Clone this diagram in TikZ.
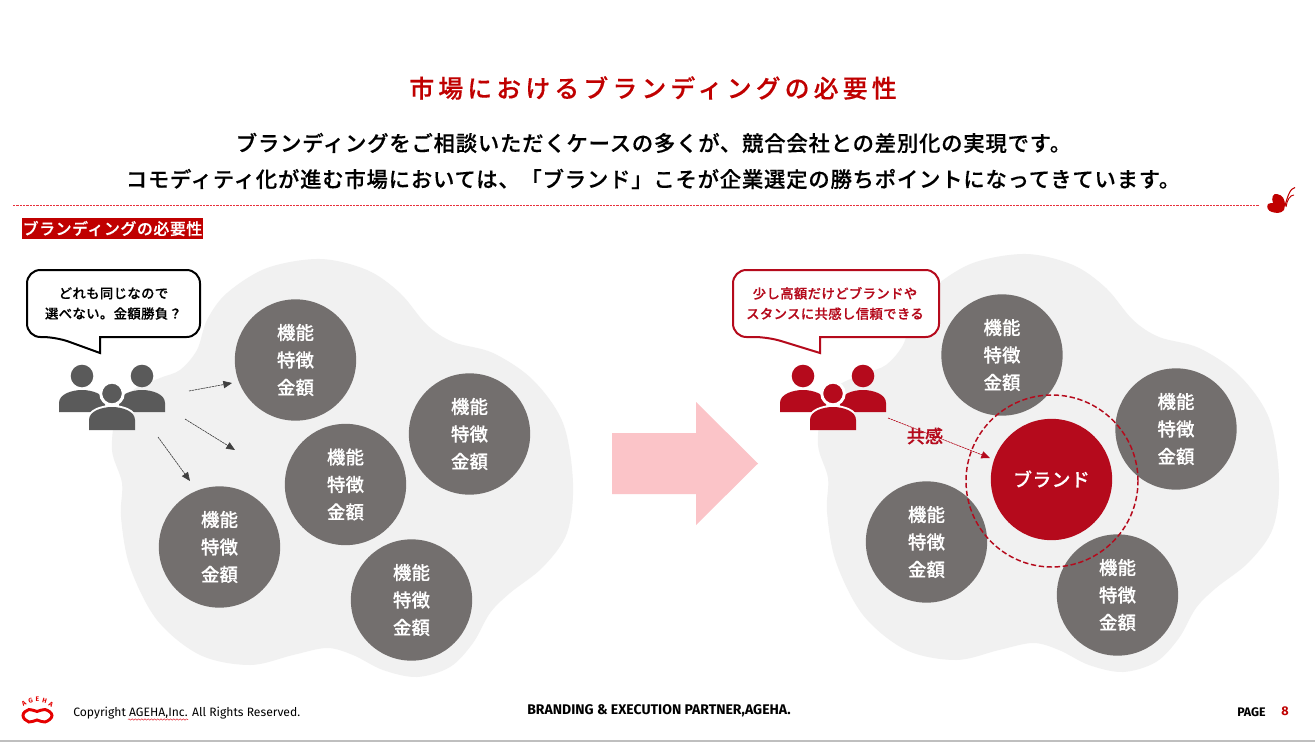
\documentclass[tikz,border=0pt]{standalone}
\usepackage{fontspec}
\usetikzlibrary{arrows.meta,decorations.pathmorphing}
\setmainfont{Noto Sans CJK JP}
\newfontfamily\ttlf[LetterSpace=17,FakeBold=0.35]{Noto Sans CJK JP Medium}
\newfontfamily\leadf[LetterSpace=3.8,FakeBold=0.35]{Noto Sans CJK JP Medium}
\newfontfamily\bubf[LetterSpace=3,FakeBold=0.35]{Noto Sans CJK JP Medium}
\newfontfamily\circf[LetterSpace=1,FakeBold=0.35]{Noto Sans CJK JP Medium}
\newfontfamily\footf{Fira Sans}
\definecolor{brandred}{HTML}{B50A1C}
\definecolor{titlered}{HTML}{C00000}
\definecolor{rulered}{HTML}{E8303C}
\definecolor{blobgray}{HTML}{F1F1F1}
\definecolor{circgray}{HTML}{736F6E}
\definecolor{peoplegray}{HTML}{5A5A5A}
\definecolor{arrowgray}{HTML}{404040}
\definecolor{pinkarrow}{HTML}{FBC4C8}
\newcommand\fsz[2]{\fontsize{#1}{#2}\selectfont}
\tikzset{
  feature/.style={circle,fill=circgray,text=white,minimum size=91pt,inner sep=0pt,align=center,font=\circf\fsz{13.8}{20.6}},
  bubbletext/.style={align=center,inner sep=0pt,font=\bubf\fsz{10}{15.2}},
  blob/.style={fill=blobgray,draw=none},
  leader/.style={-{Triangle[length=6.5pt,width=5.5pt]},line width=0.45pt,dash pattern=on 1.6pt off 0.6pt},
}
\newcommand\frontbody[1]{(89,430) -- (89,420) .. controls (89,411) and (102,407) .. (112,407) .. controls (122,407) and (135,411) .. (135,420) -- (135,430) -- cycle}
\newcommand\people[1]{%
  \fill[#1] (82,376) circle (11.3);
  \fill[#1] (142,376) circle (11.3);
  \fill[#1] (59,412) -- (59,403) .. controls (59,394) and (72,390) .. (82,390) .. controls (92,390) and (105,394) .. (105,403) -- (105,412) -- cycle;
  \fill[#1] (165,412) -- (165,403) .. controls (165,394) and (152,390) .. (142,390) .. controls (132,390) and (119,394) .. (119,403) -- (119,412) -- cycle;
  \fill[#1,draw=white,line width=2.2pt] (112,393.5) circle (11.3);
  \begin{scope}
    \clip (50,360) rectangle (175,412);
    \draw[white,line width=3pt] \frontbody{};
  \end{scope}
  \fill[#1] \frontbody{};
}
\begin{document}
\begin{tikzpicture}[x=0.75pt,y=-0.75pt]
\useasboundingbox (0,0) rectangle (1315,742);
\fill[white] (0,0) rectangle (1315,742);
% title
\node (title) at (653,88) {\ttlf\fsz{18.6}{18}\textcolor{titlered}{市場におけるブランディングの必要性}};
\node (lead1) at (653.5,143) {\leadf\fsz{16}{16}ブランディングをご相談いただくケースの多くが、競合会社との差別化の実現です。};
\node (lead2) at (653,179) {\leadf\fsz{16}{16}コモディティ化が進む市場においては、「ブランド」こそが企業選定の勝ちポイントになってきています。};
% butterfly
\fill[titlered] (1284,210) .. controls (1281,214) and (1275,213) .. (1272,212) .. controls (1268,211) and (1266,207) .. (1268,204) .. controls (1270,203) and (1272,203) .. (1273,203) .. controls (1271,198) and (1273,193) .. (1277,194) .. controls (1283,195) and (1285,200) .. (1285,205) -- cycle;
\draw[titlered,line width=0.8pt] (1285,206) .. controls (1287,198) and (1290,188) .. (1295,187.5);
\draw[titlered,line width=0.7pt] (1286,207) .. controls (1287,200) and (1290,195) .. (1294,195);
% tag
\node[fill=titlered,text=white,inner sep=0pt,minimum width=136pt,minimum height=15.75pt] (tag) at (112.5,228.5) {\bubf\fsz{12}{12}ブランディングの必要性};
% blobs
\foreach \dx/\dy in {0/0,706/-5}{
\begin{scope}[shift={(\dx*0.75pt,-\dy*0.75pt)}]
\fill[blob] plot[smooth cycle,tension=0.55] coordinates {(320,259)(367,270)(400,293)(427,325)(453,342)(493,353)(533,380)(563,423)(573,483)(567,533)(543,567)(510,593)(490,613)(473,643)(450,667)(417,677)(383,670)(353,655)(327,648)(293,655)(250,665)(200,655)(157,620)(130,567)(121,517)(122,483)(112,450)(117,410)(133,390)(160,378)(180,370)(197,350)(207,320)(227,293)(267,268)};
\end{scope}}
% big arrow
\fill[pinkarrow] (612,433) -- (696,433) -- (696,402) -- (758,463.5) -- (696,525) -- (696,494) -- (612,494) -- cycle;
% left bubble
\draw[black,fill=white,line width=1.5pt,sharp corners] (56,337) -- (100,353) -- (100,337) [rounded corners=10pt] -- (200,337) -- (200,270) -- (27,270) -- (27,337) -- cycle;
\node[bubbletext] (lbt) at (113.5,303.5) {どれも同じなので\\選べない。金額勝負？};
% right bubble
\draw[brandred,fill=white,line width=1.5pt,sharp corners] (768,337) -- (820,353) -- (820,337) [rounded corners=10pt] -- (939,337) -- (939,270) -- (733,270) -- (733,337) -- cycle;
\node[bubbletext,text=brandred] (rbt) at (835,303.5) {少し高額だけどブランドや\\スタンスに共感し信頼できる};
% people
\begin{scope}\people{peoplegray}\end{scope}
\begin{scope}[shift={(721*0.75pt,0pt)}]\people{brandred}\end{scope}
% left circles
\node[feature] (la) at (295.5,360) {機能\\特徴\\金額};
\node[feature] (lb) at (469.5,434) {機能\\特徴\\金額};
\node[feature] (lc) at (345.5,484.5) {機能\\特徴\\金額};
\node[feature] (ld) at (219.5,547) {機能\\特徴\\金額};
\node[feature] (le) at (411.5,600) {機能\\特徴\\金額};
% right circles
\node[feature] (ra) at (1002,355) {機能\\特徴\\金額};
\node[feature] (rb) at (1176,429) {機能\\特徴\\金額};
\node[feature] (rc) at (926.5,542) {機能\\特徴\\金額};
\node[feature] (rd) at (1117.5,595) {機能\\特徴\\金額};
% brand
\node[feature,fill=brandred,font=\bubf\fsz{14}{20.6}] (brand) at (1051.5,479.5) {\raisebox{1.5pt}{ブランド}};
\node[circle,draw=brandred,line width=1.1pt,dash pattern=on 4pt off 2pt,minimum size=129pt,inner sep=0pt] (ring) at (1052,481) {};
% left arrows
\coordinate (a1s) at (189,391); \coordinate (a1e) at (232,383);
\coordinate (a2s) at (185,419); \coordinate (a2e) at (235,450);
\coordinate (a3s) at (158,437); \coordinate (a3e) at (190,481);
\draw[leader,draw=arrowgray,fill=arrowgray] (a1s) -- (a1e);
\draw[leader,draw=arrowgray,fill=arrowgray] (a2s) -- (a2e);
\draw[leader,draw=arrowgray,fill=arrowgray] (a3s) -- (a3e);
% right arrow
\coordinate (a4s) at (888,418); \coordinate (a4e) at (990,458);
\draw[leader,draw=brandred,fill=brandred] (a4s) -- (a4e);
\node[text=brandred,font=\circf\fsz{13.5}{13},inner sep=0pt] (kyokan) at (925,436) {共感};
% footer logo
\draw[red!90!black,line width=2.2pt] plot[smooth cycle,tension=0.8] coordinates {(23,715.5)(29,709.5)(37,711.5)(45,709.5)(52,715.5)(45,722)(37,720)(29,722)};
\foreach \n/\lx/\ly/\rot/\ch in {l1/24/704/30/A,l2/30.5/701/15/G,l3/37.5/699.5/0/E,l4/44.5/701/-15/H,l5/51/704/-30/A}{
  \node[red!90!black,font=\footf\bfseries\fsz{5}{5},inner sep=0pt,rotate=\rot] (\n) at (\lx,\ly) {\ch};
}
\node[anchor=west,inner sep=0pt,font=\footf\fsz{9.1}{9}] (copy) at (73,713) {Copyright AGEHA,Inc. All Rights Reserved.};
\coordinate (wavyL) at (128,719.5); \coordinate (wavyR) at (188,719.5);
\draw[draw=rulered,line width=0.4pt,decorate,decoration={snake,amplitude=0.5pt,segment length=2.4pt}] (wavyL) -- (wavyR);
\node[inner sep=0pt,font=\footf\bfseries\fsz{10.5}{10}] (partner) at (659,711) {BRANDING \& EXECUTION PARTNER,AGEHA.};
\node[anchor=west,inner sep=0pt,font=\footf\bfseries\fsz{9.3}{9}] (page) at (1237,712) {PAGE};
\node[inner sep=0pt,text=titlered,font=\footf\bfseries\fsz{9.5}{10}] (pnum) at (1285,711) {8};
% bottom line
\coordinate (botL) at (0,741); \coordinate (botR) at (1315,741);
\draw[gray!50,line width=0.8pt] (botL) -- (botR);
% rule
\coordinate (ruleL) at (12,205);
\coordinate (ruleR) at (1260,205);
\fill[rulered] (ruleL) ++(0,-0.4) rectangle ([yshift=-0.3pt]ruleR);
\draw[white,line width=1.2pt,dash pattern=on 0.5pt off 2pt] (ruleL) -- (ruleR);
\end{tikzpicture}
\end{document}
